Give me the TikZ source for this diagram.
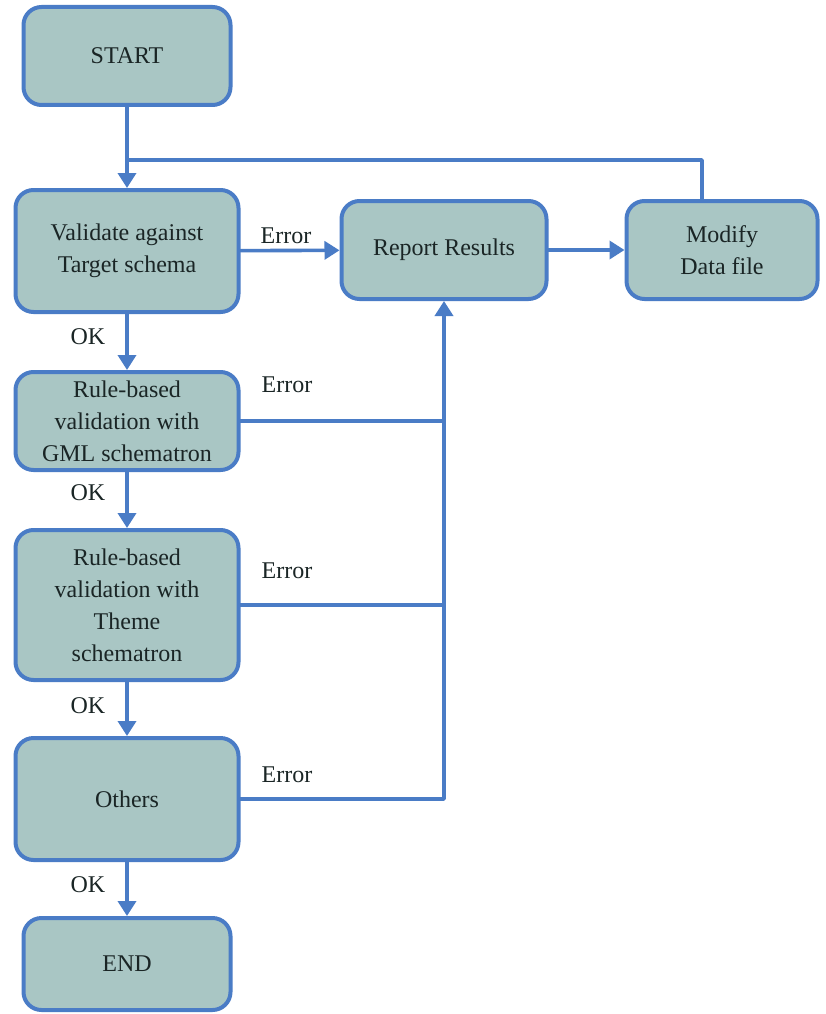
\documentclass[tikz,border=0pt]{standalone}
\usepackage{fontspec}
\setmainfont{Liberation Serif}
\usetikzlibrary{arrows.meta,positioning}
\definecolor{flowFill}{HTML}{A9C6C4}
\definecolor{flowEdge}{HTML}{4A7CC6}
\definecolor{flowInk}{HTML}{1A2525}
\begin{document}
\begin{tikzpicture}[x=1pt,y=-1pt,>={Triangle[width=18pt,length=15pt]},line cap=round,line join=round]
\path[fill=white] (0,0) rectangle (825,1014);
\tikzset{box/.style={draw=flowEdge,fill=flowFill,line width=4pt,rounded corners=18pt,align=center,text=flowInk,font=\fontsize{24}{32}\selectfont},flow/.style={draw=flowEdge,line width=3.6pt},lbl/.style={text=flowInk,font=\fontsize{24}{28}\selectfont}}
\node[box,minimum width=207pt,minimum height=98pt] (start) at (127,56) {START};
\node[box,minimum width=223pt,minimum height=122pt] (valid) at (127,251) {Validate against\\Target schema};
\node[box,minimum width=205pt,minimum height=98pt] (report) at (444,250) {Report Results};
\node[box,minimum width=191pt,minimum height=98pt] (modify) at (722,250) {Modify\\Data file};
\node[box,minimum width=223pt,minimum height=98pt] (gml) at (127,421) {Rule-based\\validation with\\GML schematron};
\node[box,minimum width=223pt,minimum height=150pt] (theme) at (127,605) {Rule-based\\validation with\\Theme\\schematron};
\node[box,minimum width=223pt,minimum height=122pt] (others) at (127,799) {Others};
\node[box,minimum width=207pt,minimum height=92pt] (end) at (127,964) {END};
\coordinate (loop) at (127,160);
\draw[flow,->] (start) -- (valid); \draw[flow] ([xshift=-20pt]modify.north) |- (loop);
\draw[flow,->] (valid) -- (report); \node[lbl] (e1) at (286,236) {Error};
\draw[flow,->] (report) -- (modify);
\draw[flow,->] (valid) -- (gml); \node[lbl] (ok1) at (88,337) {OK};
\draw[flow,->] (gml) -- (theme); \node[lbl] (ok2) at (88,493) {OK};
\draw[flow,->] (theme) -- (others); \node[lbl] (ok3) at (88,706) {OK};
\draw[flow,->] (others) -- (end); \node[lbl] (ok4) at (88,885) {OK};
\draw[flow,->] (others.east) -| (report.south); \node[lbl] (e4) at (287,775) {Error};
\draw[flow] (gml.east) -- (gml.east -| report.south); \node[lbl] (e2) at (287,385) {Error};
\draw[flow] (theme.east) -- (theme.east -| report.south); \node[lbl] (e3) at (287,571) {Error};
\end{tikzpicture}
\end{document}
